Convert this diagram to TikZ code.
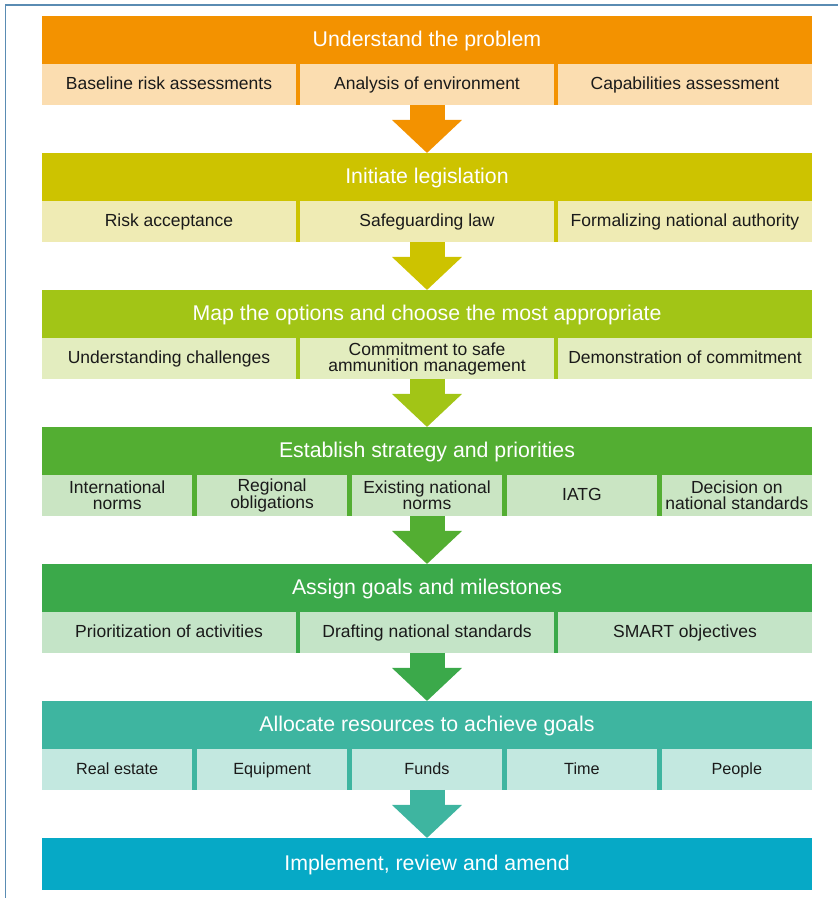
\documentclass[tikz,border=0pt]{standalone}
\usepackage{fontspec}
\setmainfont{Liberation Sans}
\usetikzlibrary{positioning,arrows.meta}
\definecolor{bandA}{HTML}{F39200}
\definecolor{cellA}{HTML}{FBDDB0}
\definecolor{bandB}{HTML}{CDC300}
\definecolor{cellB}{HTML}{EFEBB4}
\definecolor{bandC}{HTML}{A2C516}
\definecolor{cellC}{HTML}{E3EDBF}
\definecolor{bandD}{HTML}{53AE32}
\definecolor{cellD}{HTML}{CAE5C3}
\definecolor{bandE}{HTML}{3BA94A}
\definecolor{cellE}{HTML}{C4E4C7}
\definecolor{bandF}{HTML}{3EB5A0}
\definecolor{cellF}{HTML}{C3E8E0}
\definecolor{bandG}{HTML}{06A9C6}
\definecolor{frameblue}{HTML}{5A8CB3}
\definecolor{celltext}{HTML}{1A1A1A}
\newcommand{\hdfont}{\fontsize{21.3}{24}\selectfont}
\newcommand{\cellfont}{\fontsize{17.5}{16}\selectfont}
\newcommand{\smallcellfont}{\fontsize{16.2}{16}\selectfont}
\tikzset{
	hdbox/.style={rectangle,inner sep=0pt,outer sep=0pt,minimum width=770pt,minimum height=48pt,text=white,font=\hdfont,text height=15.3pt,text depth=2pt},
	rowbox/.style={rectangle,inner sep=0pt,outer sep=0pt,minimum width=770pt,minimum height=41pt},
	cellthree/.style={rectangle,inner sep=0pt,outer sep=0pt,minimum width=254pt,minimum height=41pt,text=celltext,font=\cellfont,align=center,text height=12.5pt,text depth=1.5pt},
	cellfive/.style={cellthree,minimum width=150.4pt},
	twoline/.style={text height={},text depth={}},
	flowarrow/.style={line width=35pt,-{Triangle[width=68pt,length=33pt]}},
	frameline/.style={frameblue,line width=1.5pt}
}
\begin{document}
\begin{tikzpicture}[x=1pt,y=1pt]
	\useasboundingbox (0,0) rectangle (838,898);
	\draw[frameline] (5.5,0) -- (5.5,893) -- (838,893);

	\node[hdbox,fill=bandA,anchor=north] (hd1) at (427,882) {Understand the problem};
	\node[rowbox,fill=bandA,below=0pt of hd1] (rw1) {};
	\node[cellthree,fill=cellA,anchor=north west] (ca1) at (rw1.north west) {Baseline risk assessments};
	\node[cellthree,fill=cellA,right=4pt of ca1] (ca2) {Analysis of environment};
	\node[cellthree,fill=cellA,right=4pt of ca2] (ca3) {Capabilities assessment};

	\node[hdbox,fill=bandB,below=48pt of rw1] (hd2) {Initiate legislation};
	\node[rowbox,fill=bandB,below=0pt of hd2] (rw2) {};
	\node[cellthree,fill=cellB,anchor=north west] (cb1) at (rw2.north west) {Risk acceptance};
	\node[cellthree,fill=cellB,right=4pt of cb1] (cb2) {Safeguarding law};
	\node[cellthree,fill=cellB,right=4pt of cb2] (cb3) {Formalizing national authority};

	\node[hdbox,fill=bandC,below=48pt of rw2] (hd3) {Map the options and choose the most appropriate};
	\node[rowbox,fill=bandC,below=0pt of hd3] (rw3) {};
	\node[cellthree,fill=cellC,anchor=north west] (cc1) at (rw3.north west) {Understanding challenges};
	\node[cellthree,twoline,fill=cellC,right=4pt of cc1] (cc2) {Commitment to safe\\ammunition management};
	\node[cellthree,fill=cellC,right=4pt of cc2] (cc3) {Demonstration of commitment};

	\node[hdbox,fill=bandD,below=48pt of rw3] (hd4) {Establish strategy and priorities};
	\node[rowbox,fill=bandD,below=0pt of hd4] (rw4) {};
	\node[cellfive,twoline,fill=cellD,anchor=north west] (cd1) at (rw4.north west) {International\\norms};
	\node[cellfive,twoline,fill=cellD,right=4.5pt of cd1] (cd2) {Regional\\obligations};
	\node[cellfive,twoline,fill=cellD,right=4.5pt of cd2] (cd3) {Existing national\\norms};
	\node[cellfive,fill=cellD,right=4.5pt of cd3] (cd4) {IATG};
	\node[cellfive,twoline,fill=cellD,right=4.5pt of cd4] (cd5) {Decision on\\national standards};

	\node[hdbox,fill=bandE,below=48pt of rw4] (hd5) {Assign goals and milestones};
	\node[rowbox,fill=bandE,below=0pt of hd5] (rw5) {};
	\node[cellthree,fill=cellE,anchor=north west] (ce1) at (rw5.north west) {Prioritization of activities};
	\node[cellthree,fill=cellE,right=4pt of ce1] (ce2) {Drafting national standards};
	\node[cellthree,fill=cellE,right=4pt of ce2] (ce3) {SMART objectives};

	\node[hdbox,fill=bandF,below=48pt of rw5] (hd6) {Allocate resources to achieve goals};
	\node[rowbox,fill=bandF,below=0pt of hd6] (rw6) {};
	\node[cellfive,fill=cellF,font=\smallcellfont,anchor=north west] (cf1) at (rw6.north west) {Real estate};
	\node[cellfive,fill=cellF,font=\smallcellfont,right=4.5pt of cf1] (cf2) {Equipment};
	\node[cellfive,fill=cellF,font=\smallcellfont,right=4.5pt of cf2] (cf3) {Funds};
	\node[cellfive,fill=cellF,font=\smallcellfont,right=4.5pt of cf3] (cf4) {Time};
	\node[cellfive,fill=cellF,font=\smallcellfont,right=4.5pt of cf4] (cf5) {People};

	\node[hdbox,fill=bandG,minimum height=52pt,below=48pt of rw6] (hd7) {Implement, review and amend};

	\draw[flowarrow,bandA] (rw1.south) -- (hd2.north);
	\draw[flowarrow,bandB] (rw2.south) -- (hd3.north);
	\draw[flowarrow,bandC] (rw3.south) -- (hd4.north);
	\draw[flowarrow,bandD] (rw4.south) -- (hd5.north);
	\draw[flowarrow,bandE] (rw5.south) -- (hd6.north);
	\draw[flowarrow,bandF] (rw6.south) -- (hd7.north);
\end{tikzpicture}
\end{document}
